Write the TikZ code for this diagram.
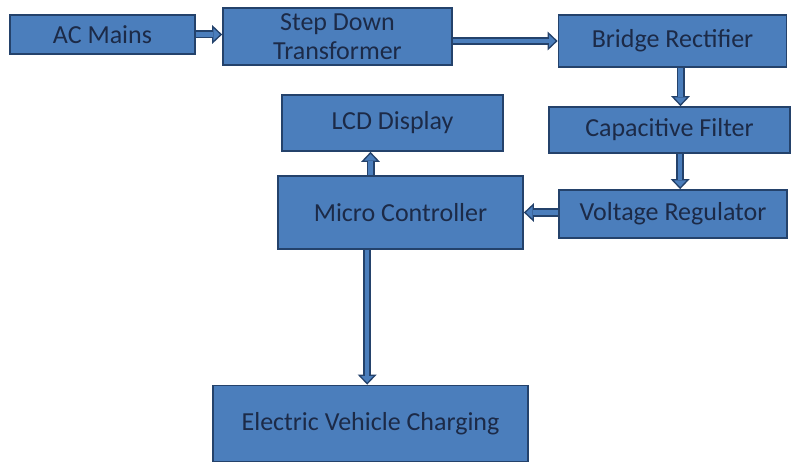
\documentclass[tikz,border=0pt]{standalone}
\usepackage{fontspec}
\setmainfont{Carlito}
\usetikzlibrary{arrows.meta,positioning}

\definecolor{boxfill}{HTML}{4B7EBC}
\definecolor{boxline}{HTML}{24426B}
\definecolor{boxtext}{HTML}{1C2A47}

\tikzset{
  block/.style={draw=boxline, line width=1.3pt, fill=boxfill, text=boxtext,
                font=\fontsize{19.5}{22}\selectfont, align=center,
                inner sep=0pt},
  link/.style={draw=boxline, line width=6pt,
               -{Triangle[length=7.5pt,width=14pt,line width=1pt,fill=boxfill]},
               postaction={draw=boxfill, line width=3.4pt, -, shorten >=6.5pt}}
}

\begin{document}
\begin{tikzpicture}[x=0.75pt, y=-0.75pt]
  \useasboundingbox (0,0) rectangle (791,463);

  %--- Power supply chain
  \node[block, minimum width=138.75pt, minimum height=29.25pt] (ac) at (102.5,34.5) {AC Mains};
  \node[block, minimum width=171.75pt, minimum height=42.75pt] (step) at (337.5,36.5) {Step Down\\Transformer};
  \node[block, minimum width=171pt, minimum height=39pt] (bridge) at (672.5,41) {Bridge Rectifier};
  \node[block, minimum width=180.75pt, minimum height=34.5pt] (cap) at (669.5,130) {Capacitive Filter};
  \node[block, minimum width=171pt, minimum height=36pt] (volt) at (673,214) {Voltage Regulator};

  %--- Control and output
  \node[block, minimum width=165.75pt, minimum height=42pt] (lcd) at (392.5,123) {LCD Display};
  \node[block, minimum width=183.75pt, minimum height=54.75pt] (mc) at (400.5,212.5) {Micro Controller};
  \node[block, minimum width=236.25pt, minimum height=57pt] (ev) at (370.5,423.5) {Electric Vehicle Charging};

  %--- Connections
  \draw[link] (ac.east) -- (ac.east -| step.west);
  \draw[link] (step.east |- bridge) -- (bridge.west);
  \draw[link] ([xshift=6pt]bridge.south) -- ([xshift=6pt]bridge.south |- cap.north);
  \draw[link] ([xshift=8pt]cap.south) -- ([xshift=8pt]cap.south |- volt.north);
  \draw[link] (volt.west |- mc) -- (mc.east);
  \draw[link] ([xshift=-22.5pt]mc.north) -- ([xshift=-22.5pt]mc.north |- lcd.south);
  \draw[link] ([xshift=-25pt]mc.south) -- ([xshift=-25pt]mc.south |- ev.north);

\end{tikzpicture}
\end{document}
